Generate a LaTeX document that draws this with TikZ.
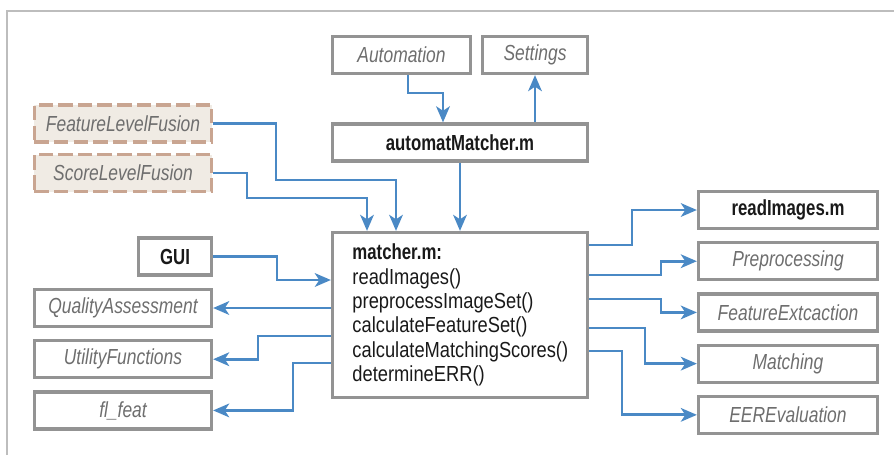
\documentclass[tikz,border=0pt]{standalone}
\usepackage{fontspec}
\setmainfont{Liberation Sans}[FakeStretch=0.84,
  BoldFeatures={FakeStretch=0.77}, ItalicFeatures={FakeStretch=0.8}]
\usepackage{tikz}
\usetikzlibrary{arrows.meta, positioning}
\usepackage{xcolor}

\definecolor{boxgray}{HTML}{939393}
\definecolor{txtgray}{HTML}{6E6E6E}
\definecolor{linkblue}{HTML}{4A89C5}
\definecolor{fusefill}{HTML}{F0EBE4}
\definecolor{fusedraw}{HTML}{C9A591}
\definecolor{framegray}{HTML}{BDBDBD}

\newcommand{\diagfont}{\fontsize{15.5}{17.3}\selectfont}

\begin{document}
\begin{tikzpicture}[
    x=0.025cm, y=-0.025cm,
    node distance=2.75mm and 5mm,
    box/.style={draw=boxgray, line width=0.8mm, minimum height=9.25mm, inner sep=2pt, align=center},
    main/.style={box, font=\diagfont\bfseries, text=black!90},
    mod/.style={box, font=\diagfont\itshape, text=txtgray},
    fusion/.style={mod, draw=fusedraw, fill=fusefill, dash pattern=on 3.6mm off 1.3mm},
    side/.style={minimum width=44.25mm},
    link/.style={-{Stealth[length=4mm, width=3.4mm, inset=1.1mm]}, draw=linkblue, line width=0.72mm}
    ]

    % frame
    \useasboundingbox (0,0) rectangle (894,455);
    \draw[framegray, line width=0.4mm] (7,455) -- (7,11) -- (894,11);

    % Nodes
    \node[mod, minimum width=34.5mm] (auto) at (401.5,55) {Automation};
    \node[mod, minimum width=26.25mm] (set) at (535,55) {Settings};
    \node[main, minimum width=63.75mm] (am) at (460,142.5) {automatMatcher.m};
    \node[box, minimum width=63.75mm, minimum height=41.25mm, inner xsep=5mm,
          text width=53.75mm, align=left, font=\diagfont, text=black!90] (matcher) at (460,315)
          {\textbf{matcher.m:}\\ readImages()\\ preprocessImageSet()\\ calculateFeatureSet()\\
           calculateMatchingScores()\\ determineERR()};

    \node[fusion, side] (flf) at (123,123.5) {FeatureLevelFusion};
    \node[fusion, side] (slf) at (123,173) {ScoreLevelFusion};
    \node[main, minimum width=18.25mm] (gui) at (175,256.5) {GUI};
    \node[mod, side] (qa) at (123,308) {QualityAssessment};
    \node[mod, side] (uf) [below=of qa] {UtilityFunctions};
    \node[mod, side] (fl) [below=of uf] {fl\_feat};

    \node[main, minimum width=44.75mm] (ri) at (788,210) {readImages.m};
    \node[mod, minimum width=44.75mm] (pre) [below=of ri] {Preprocessing};
    \node[mod, minimum width=44.75mm] (fe) [below=of pre] {FeatureExtcaction};
    \node[mod, minimum width=44.75mm] (mat) [below=of fe] {Matching};
    \node[mod, minimum width=44.75mm] (eer) [below=of mat] {EEREvaluation};

    % Arrows
    \draw[link] (auto.south -| 408,0) |- (443,93) -- (443,93 |- am.north);
    \draw[link] (am.north -| set.south) -- (set.south);
    \draw[link] (am.south) -- (matcher.north);
    \draw[link] (flf.east) -| (276,180) -| (matcher.north -| 396,0);
    \draw[link] (slf.east) -| (247,198) -| (matcher.north -| 367,0);
    \draw[link] (gui.east) -| (277,280) -- (matcher.west |- 0,280);

    \draw[link] (matcher.west |- qa.east) -- (qa.east);
    \draw[link] (matcher.west |- 0,336) -| (uf.east -| 258,0) -- (uf.east);
    \draw[link] (matcher.west |- 0,363) -| (fl.east -| 293,0) -- (fl.east);

    \draw[link] (matcher.east |- 0,245) -| (ri.west -| 632,0) -- (ri.west);
    \draw[link] (matcher.east |- 0,275) -| (pre.west -| 661,0) -- (pre.west);
    \draw[link] (matcher.east |- 0,299) -| (fe.west -| 661,0) -- (fe.west);
    \draw[link] (matcher.east |- 0,328) -| (mat.west -| 645,0) -- (mat.west);
    \draw[link] (matcher.east |- 0,351) -| (eer.west -| 622,0) -- (eer.west);
\end{tikzpicture}
\end{document}
